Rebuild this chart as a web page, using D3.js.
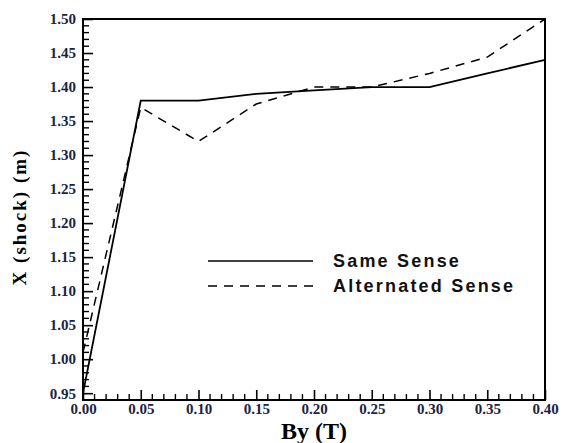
<!DOCTYPE html>
<html>
<head>
<meta charset="utf-8">
<script src="https://cdn.jsdelivr.net/npm/d3@7"></script>
<style>
  html, body { margin: 0; padding: 0; background: #fff; }
  svg { display: block; }
</style>
</head>
<body>
<svg id="chart" width="563" height="443"></svg>
<script>
// Shock position versus transverse field By
const bField = [0.00, 0.05, 0.10, 0.15, 0.20, 0.25, 0.30, 0.35, 0.40];
const sameSense = [0.95, 1.38, 1.38, 1.39, 1.395, 1.40, 1.40, 1.42, 1.44];
const alternatedSense = [1.01, 1.37, 1.32, 1.375, 1.40, 1.40, 1.42, 1.444, 1.50];
const seriesNames = ["Same Sense", "Alternated Sense"];
const xTicks = [0.00, 0.05, 0.10, 0.15, 0.20, 0.25, 0.30, 0.35, 0.40];
const yTicks = [0.95, 1.00, 1.05, 1.10, 1.15, 1.20, 1.25, 1.30, 1.35, 1.40, 1.45, 1.50];

const svg = d3.select("#chart");
const plotL = 83, plotR = 545, plotT = 19, plotB = 400;

const x = d3.scaleLinear().domain([0, 0.40]).range([plotL, plotR]);
const y = d3.scaleLinear().domain([0.94, 1.50]).range([plotB, plotT]);

const serif = "'Liberation Serif', 'Times New Roman', serif";
const sans = "'Liberation Sans', Arial, sans-serif";
const labelColor = "#1c2340";

// minor ticks every 0.01
const xMinor = d3.range(0, 41).map(i => i / 100).filter(v => !xTicks.some(t => Math.abs(t - v) < 1e-9));
const yMinor = d3.range(94, 151).map(i => i / 100).filter(v => !yTicks.some(t => Math.abs(t - v) < 1e-9));

// bottom axis, ticks pointing into the plot
const xAxis = svg.append("g").attr("transform", `translate(0,${plotB})`)
  .call(d3.axisBottom(x).tickValues(xTicks).tickFormat(d3.format(".2f")).tickSizeInner(-10).tickSizeOuter(0).tickPadding(3));
xAxis.select(".domain").remove();
xAxis.selectAll(".tick line").attr("stroke", "#000").attr("stroke-width", 1.6);
xAxis.selectAll("text").attr("font-family", serif).attr("font-weight", "bold")
  .attr("font-size", 15).attr("fill", labelColor);
xAxis.selectAll(".minor").data(xMinor).enter().append("line")
  .attr("x1", d => x(d)).attr("x2", d => x(d)).attr("y1", 0).attr("y2", -6)
  .attr("stroke", "#000").attr("stroke-width", 1.4);

// left axis, ticks pointing into the plot
const yAxis = svg.append("g").attr("transform", `translate(${plotL},0)`)
  .call(d3.axisLeft(y).tickValues(yTicks).tickFormat(d3.format(".2f")).tickSizeInner(-10).tickSizeOuter(0).tickPadding(7));
yAxis.select(".domain").remove();
yAxis.selectAll(".tick line").attr("stroke", "#000").attr("stroke-width", 1.6);
yAxis.selectAll("text").attr("font-family", serif).attr("font-weight", "bold")
  .attr("font-size", 15).attr("fill", labelColor);
yAxis.selectAll(".minor").data(yMinor).enter().append("line")
  .attr("x1", 0).attr("x2", 6).attr("y1", d => y(d)).attr("y2", d => y(d))
  .attr("stroke", "#000").attr("stroke-width", 1.4);

// frame
svg.append("rect").attr("x", plotL).attr("y", plotT)
  .attr("width", plotR - plotL).attr("height", plotB - plotT)
  .attr("fill", "none").attr("stroke", "#000").attr("stroke-width", 2);

// series lines
const line = d3.line().x(d => x(d[0])).y(d => y(d[1]));
svg.append("path").datum(bField.map((b, i) => [b, sameSense[i]]))
  .attr("d", line).attr("fill", "none").attr("stroke", "#000").attr("stroke-width", 1.8);
svg.append("path").datum(bField.map((b, i) => [b, alternatedSense[i]]))
  .attr("d", line).attr("fill", "none").attr("stroke", "#000").attr("stroke-width", 1.5)
  .attr("stroke-dasharray", "9,7");

// legend
const legend = svg.append("g");
[[261, null], [286, "9,7"]].forEach(([ly, dash], i) => {
  legend.append("line").attr("x1", 208).attr("x2", 313).attr("y1", ly).attr("y2", ly)
    .attr("stroke", "#000").attr("stroke-width", 1.6).attr("stroke-dasharray", dash);
  legend.append("text").attr("x", 333).attr("y", ly + 6)
    .attr("font-family", sans).attr("font-weight", "bold").attr("font-size", 18)
    .attr("letter-spacing", "2.2px").attr("fill", "#111")
    .text(seriesNames[i]);
});

// axis titles
svg.append("text").attr("x", (plotL + plotR) / 2).attr("y", 439)
  .attr("text-anchor", "middle").attr("font-family", serif).attr("font-weight", "bold")
  .attr("font-size", 24).attr("fill", "#000").text("By (T)");
svg.append("text").attr("transform", `translate(26,217) rotate(-90)`)
  .attr("text-anchor", "middle").attr("font-family", serif).attr("font-weight", "bold")
  .attr("font-size", 19).attr("letter-spacing", "2px").attr("fill", "#000").text("X (shock) (m)");
</script>
</body>
</html>
